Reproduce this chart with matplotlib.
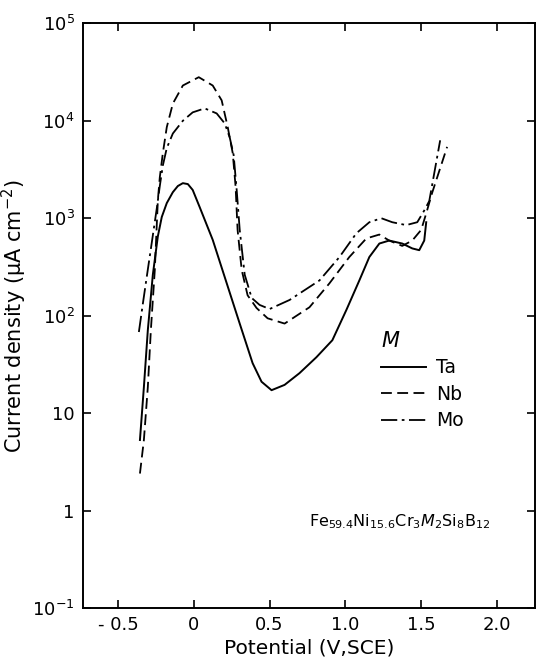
import matplotlib
matplotlib.use("Agg")
import matplotlib.pyplot as plt
from matplotlib.ticker import FixedLocator, NullLocator

# Potential (V, SCE) and current density (uA cm^-2)
ta_v = [-0.355, -0.329, -0.303, -0.270, -0.237, -0.211, -0.178, -0.138, -0.105,
        -0.072, -0.039, -0.007, 0.039, 0.125, 0.303, 0.388, 0.447, 0.513, 0.599,
        0.697, 0.809, 0.914, 1.007, 1.092, 1.158, 1.224, 1.289, 1.375, 1.441,
        1.487, 1.520, 1.533]
ta_i = [5.3, 18.5, 71, 263, 650, 1030, 1430, 1850, 2140,
        2290, 2240, 1950, 1300, 600, 83, 32.6, 21, 17.2, 19.5,
        25.7, 37.5, 56, 115, 230, 400, 550, 590, 550, 490,
        470, 590, 910]

nb_v = [-0.355, -0.329, -0.303, -0.283, -0.257, -0.237, -0.224, -0.204, -0.178,
        -0.138, -0.072, 0.033, 0.125, 0.184, 0.224, 0.257, 0.276, 0.289, 0.316,
        0.355, 0.414, 0.487, 0.599, 0.763, 0.895, 1.026, 1.138, 1.224, 1.289,
        1.375, 1.441, 1.500, 1.533, 1.572, 1.671]
nb_i = [2.4, 5.3, 18.5, 71, 295, 1520, 2630, 4650, 8600,
        15000, 23000, 28000, 23000, 16200, 8600, 4650, 2100, 760, 295,
        162, 120, 94, 83, 122, 215, 400, 620, 680, 590,
        520, 590, 760, 1120, 1820, 5400]

mo_v = [-0.362, -0.336, -0.309, -0.276, -0.243, -0.224, -0.204, -0.178, -0.138,
        -0.072, -0.007, 0.072, 0.151, 0.204, 0.237, 0.263, 0.283, 0.303, 0.336,
        0.382, 0.434, 0.500, 0.632, 0.829, 0.961, 1.072, 1.158, 1.237, 1.309,
        1.401, 1.474, 1.520, 1.553, 1.625]
mo_i = [68, 132, 257, 575, 1290, 2140, 3470, 5250, 7400,
        10000, 12200, 13400, 11900, 9400, 6760, 4450, 1950, 760, 263,
        152, 129, 117, 145, 230, 400, 700, 910, 1000, 910,
        850, 910, 1200, 1500, 6300]

x_ticks = [-0.5, 0, 0.5, 1.0, 1.5, 2.0]
x_labels = ["- 0.5", "0", "0.5", "1.0", "1.5", "2.0"]
y_ticks = [0.1, 1, 10, 100, 1000, 10000, 100000]
y_labels = ["10$^{-1}$", "1", "10", "10$^2$", "10$^3$", "10$^4$", "10$^5$"]

plt.rcParams['font.family'] = ['DejaVu Sans']
plt.rcParams['mathtext.fontset'] = 'dejavusans'

fig = plt.figure(figsize=(5.36, 6.66), dpi=100)
ax = fig.add_axes([0.155, 0.087, 0.843, 0.878])

ax.plot(ta_v, ta_i, color='black', lw=1.4, linestyle='-', label='Ta')
ax.plot(nb_v, nb_i, color='black', lw=1.3, linestyle=(0, (6, 3)), label='Nb')
ax.plot(mo_v, mo_i, color='black', lw=1.3, linestyle=(0, (9, 2.5, 1.5, 2.5)), label='Mo')

ax.set_yscale('log')
ax.set_xlim(-0.73, 2.25)
ax.set_ylim(0.1, 1e5)

ax.xaxis.set_major_locator(FixedLocator(x_ticks))
ax.set_xticklabels(x_labels)
ax.yaxis.set_major_locator(FixedLocator(y_ticks))
ax.yaxis.set_minor_locator(NullLocator())
ax.set_yticklabels(y_labels)

ax.tick_params(direction='in', length=6, width=1.2, top=True, right=True,
               labelsize=13, pad=6)
for s in ax.spines.values():
    s.set_linewidth(1.4)

ax.set_xlabel("Potential (V,SCE)", fontsize=14.5, labelpad=3)
ax.set_ylabel("Current density (\u03bcA cm$^{-2}$)", fontsize=15, labelpad=2)

leg = ax.legend(title='$M$', frameon=False, loc='upper left',
                bbox_to_anchor=(0.63, 0.497), fontsize=13.5, title_fontsize=15,
                handlelength=2.4, handletextpad=0.55, labelspacing=0.4,
                borderpad=0.2)
leg._legend_box.align = 'left'

ax.text(0.70, 0.147, "Fe$_{59.4}$Ni$_{15.6}$Cr$_3$$M_2$Si$_8$B$_{12}$",
        transform=ax.transAxes, ha='center', va='center', fontsize=11.5)

fig.savefig("out.png", dpi=100)
